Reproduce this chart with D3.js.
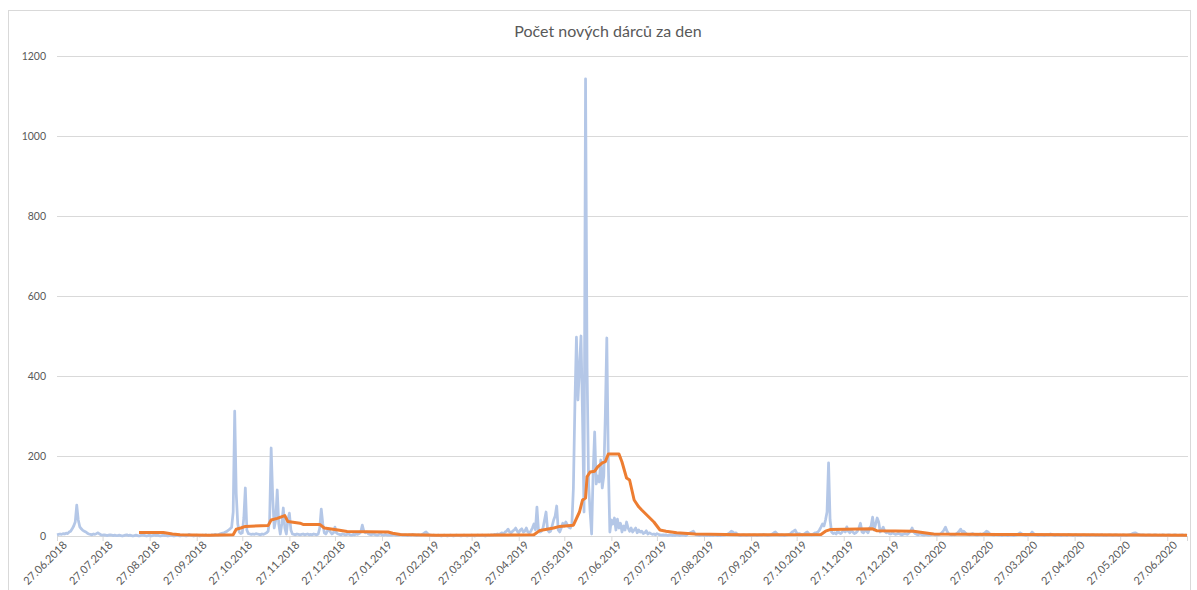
<!DOCTYPE html>
<meta charset="utf-8">
<script src="https://cdn.jsdelivr.net/npm/d3@7"></script>
<style>
  body { margin: 0; background: #fff; }
  text { font-family: Lato, "Open Sans", sans-serif; }
</style>
<div id="my_dataviz"></div>
<script>

// first day of the series
var startDate = new Date(2018, 5, 27);

// daily new donors, one value per day from 27.06.2018
var dailyValues = [
  3,4,5,4,6,5,7,6,10,12,
  18,25,35,77,40,23,18,14,12,10,
  7,5,4,3,5,4,6,8,5,3,
  2,3,2,1,2,3,2,1,2,1,
  1,2,1,0,1,2,3,1,2,1,
  0,1,2,1,0,1,3,2,1,0,
  1,2,0,1,3,1,2,1,0,1,
  2,1,1,0,1,2,1,0,1,2,
  1,0,1,2,1,0,1,4,2,1,
  0,1,2,1,0,1,2,1,3,1,
  2,1,3,2,4,3,2,5,6,7,
  8,10,12,15,18,22,60,312,107,30,
  10,6,8,45,120,15,6,5,4,5,
  4,6,5,4,3,5,4,6,8,12,
  40,220,100,20,40,115,30,5,30,70,
  20,5,40,57,15,5,4,3,5,4,
  3,4,5,3,4,5,3,4,3,5,
  4,3,5,20,67,30,8,5,12,18,
  10,5,8,22,8,5,4,3,5,4,
  3,4,5,3,2,4,3,5,4,6,
  10,27,12,8,10,5,4,3,5,4,
  3,2,4,5,3,2,4,3,2,3,
  2,3,4,2,3,2,4,3,2,3,
  2,1,3,2,4,3,2,1,3,2,
  3,5,8,10,6,3,2,1,2,1,
  1,2,1,0,1,2,1,0,1,2,
  1,0,1,2,1,1,0,1,2,1,
  0,1,1,2,1,0,1,2,1,1,
  2,1,0,1,2,1,3,2,4,3,
  5,4,6,8,5,10,12,17,10,8,
  12,15,20,12,8,15,18,10,12,20,
  10,8,12,20,30,15,72,15,10,12,
  20,40,60,15,10,12,25,40,50,75,
  15,10,20,32,25,35,28,22,20,30,
  120,330,497,340,420,500,300,60,1143,420,
  130,60,5,160,260,130,150,135,190,120,
  150,300,495,180,10,40,30,45,15,42,
  20,32,10,25,15,35,20,12,20,10,
  15,20,8,15,10,12,6,8,13,5,
  8,6,4,5,3,6,4,3,2,3,
  2,3,1,2,3,1,2,1,3,2,
  1,2,3,2,1,4,6,8,10,12,
  6,3,2,1,2,3,1,2,1,2,
  1,2,1,3,2,1,2,1,3,2,
  3,4,6,8,12,10,6,8,4,2,
  1,2,3,2,1,2,3,1,2,3,
  2,1,2,3,2,4,3,2,1,2,
  3,5,8,10,6,3,2,3,2,1,
  2,3,4,6,10,12,15,8,5,6,
  4,3,5,8,10,6,4,3,5,8,
  8,10,15,22,30,25,40,60,183,40,
  10,6,8,5,12,8,6,10,15,10,
  23,12,8,15,10,6,8,12,20,32,
  10,8,15,12,8,20,25,47,15,30,
  45,35,10,15,22,12,8,10,6,5,
  8,6,4,5,7,5,3,4,6,5,
  4,8,12,20,10,6,4,3,5,4,
  3,2,4,3,2,3,4,5,3,2,
  3,4,6,10,15,22,12,6,4,3,
  4,3,5,8,12,17,10,12,8,5,
  4,3,5,6,4,3,2,4,5,3,
  6,8,12,10,6,4,3,2,4,3,
  2,3,1,2,3,2,1,2,3,2,
  1,2,3,5,8,6,3,2,1,2,
  3,5,10,6,3,2,1,2,3,2,
  1,2,3,2,5,4,2,1,2,3,
  2,1,2,3,2,1,4,3,2,1,
  2,3,1,2,1,2,3,2,1,2,
  1,2,3,2,1,2,1,2,3,1,
  2,1,2,3,2,1,2,3,2,1,
  2,1,3,2,1,2,3,4,6,7,
  8,6,4,3,2,3,2,1,2,3,
  2,1,2,3,2,1,2,1,3,2,
  1,2,3,2,1,2,3,2,1,2,
  2,3,1,2,1
];

// trend line (orange), day offset from startDate and value
var trendDays = [54,70,76,81,100,116,118,121,124,139,141,145,150,152,160,162,173,176,185,191,
  218,221,226,250,314,318,327,331,340,344,346,348,349,351,354,356,359,361,363,370,
  372,375,377,380,383,385,389,393,397,401,408,420,450,503,506,509,537,540,564,571,
  577,620,680,744];
var trendValues = [9,9,5,3,2,3,17,20,24,26,40,44,51,36,32,29,29,20,15,11,
  10,7,4,2,3,14,20,24,27,60,90,95,148,160,162,173,183,186,205,205,
  185,145,140,90,73,65,50,35,15,12,8,5,3,4,12,16,18,13,12,8,
  5,4,3,2];

var yTicks = [0, 200, 400, 600, 800, 1000, 1200];
var chartTitle = "Počet nových dárců za den";

var W = 1197, H = 590;
var margin = {top: 56, right: 9, bottom: 54, left: 57};
var width = 1188 - margin.left,
    height = 536 - margin.top;

var svg = d3.select("#my_dataviz")
  .append("svg")
    .attr("width", W)
    .attr("height", H);

// chart border
svg.append("rect")
  .attr("x", 8.5).attr("y", 10.5)
  .attr("width", 1182).attr("height", 600)
  .attr("fill", "none")
  .attr("stroke", "#d9d9d9");

svg.append("text")
  .attr("x", 608).attr("y", 37)
  .attr("text-anchor", "middle")
  .attr("font-size", 16)
  .attr("fill", "#595959")
  .text(chartTitle);

var g = svg.append("g")
  .attr("transform", "translate(" + margin.left + "," + margin.top + ")");

var dayDate = function(i) { return d3.timeDay.offset(startDate, i); };
var endDate = dayDate(dailyValues.length - 1);

var x = d3.scaleTime()
  .domain([startDate, endDate])
  .range([0, width - 1]);

var y = d3.scaleLinear()
  .domain([0, 1200])
  .range([height, 0]);

// gridlines
g.selectAll(".grid")
  .data(yTicks)
  .enter()
  .append("line")
    .attr("x1", 0).attr("x2", width)
    .attr("y1", d => Math.round(y(d)) + 0.5)
    .attr("y2", d => Math.round(y(d)) + 0.5)
    .attr("stroke", "#d9d9d9");

// y labels
g.selectAll(".ylab")
  .data(yTicks)
  .enter()
  .append("text")
    .attr("x", -11)
    .attr("y", d => y(d) + 4)
    .attr("text-anchor", "end")
    .attr("font-size", 10.5)
    .attr("fill", "#595959")
    .text(d => d);

// x axis, a tick on the 27th of every month
var monthTicks = d3.range(0, 25).map(i => new Date(2018, 5 + i, 27)).filter(d => d <= endDate);
var fmt = d3.timeFormat("%d.%m.%Y");

var xAxis = g.append("g")
  .attr("transform", "translate(0," + height + ")")
  .call(d3.axisBottom(x).tickValues(monthTicks).tickSize(5).tickFormat(fmt));
xAxis.select(".domain").attr("stroke", "#d9d9d9");
xAxis.selectAll(".tick line").attr("stroke", "#d9d9d9");
xAxis.selectAll(".tick text")
  .attr("fill", "#595959")
  .attr("font-size", 11)
  .attr("font-family", "Lato, 'Open Sans', sans-serif")
  .attr("text-anchor", "end")
  .attr("dx", "0.3em")
  .attr("dy", "0.3em")
  .attr("transform", "translate(0,4) rotate(-45)");

// daily line
var dailyLine = d3.line()
  .x((d, i) => x(dayDate(i)))
  .y(d => y(d));

g.append("path")
  .datum(dailyValues)
  .attr("fill", "none")
  .attr("stroke", "#b4c7e7")
  .attr("stroke-width", 2.75)
  .attr("stroke-linejoin", "round")
  .attr("d", dailyLine);

// trend line
var trendLine = d3.line()
  .x(d => x(dayDate(d[0])))
  .y(d => y(d[1]));

g.append("path")
  .datum(trendDays.map((d, i) => [d, trendValues[i]]))
  .attr("fill", "none")
  .attr("stroke", "#ed7d31")
  .attr("stroke-width", 3)
  .attr("stroke-linejoin", "round")
  .attr("d", trendLine);

</script>
